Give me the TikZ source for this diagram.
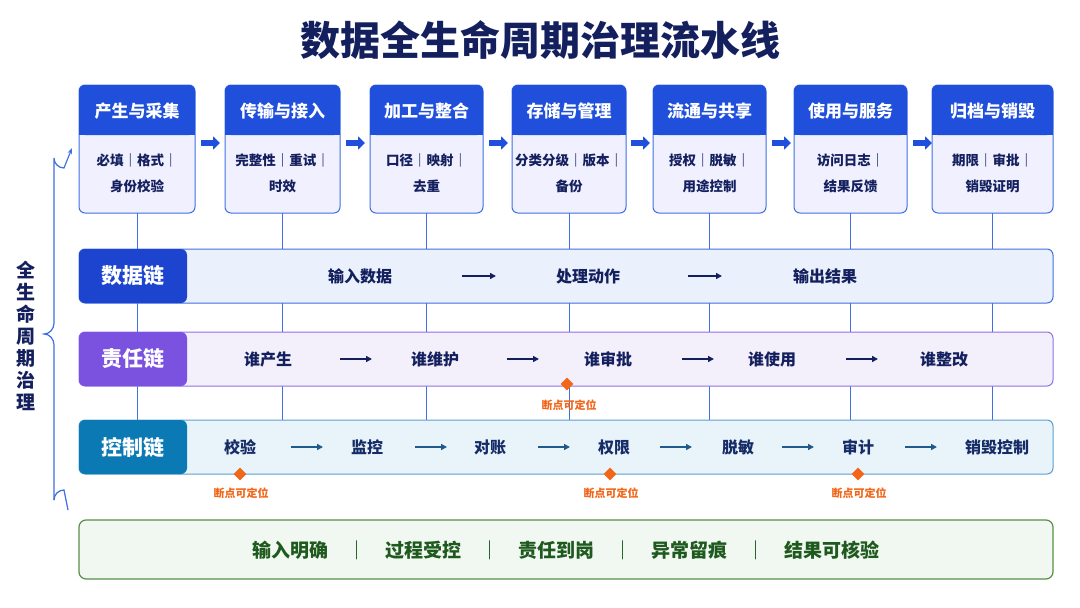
\documentclass[tikz,border=0pt]{standalone}
\usepackage{fontspec}
\setmainfont{Noto Sans CJK SC}
\usetikzlibrary{arrows.meta,shapes.geometric,decorations.pathreplacing}
\definecolor{hdr}{HTML}{1F4FDB}
\definecolor{bdr}{HTML}{3F6FE3}
\definecolor{navy}{HTML}{14205E}
\definecolor{dlab}{HTML}{1D44CF}
\definecolor{dfill}{HTML}{EAF1FC}
\definecolor{rlab}{HTML}{7A52DF}
\definecolor{rfill}{HTML}{F3F0FC}
\definecolor{rbdr}{HTML}{8E72E6}
\definecolor{clab}{HTML}{0B79B4}
\definecolor{cfill}{HTML}{E8F3FA}
\definecolor{cbdr}{HTML}{5B9FD2}
\definecolor{carr}{HTML}{1F5A8A}
\definecolor{org}{HTML}{F2661A}
\definecolor{gbdr}{HTML}{5A8F48}
\definecolor{gfill}{HTML}{F1F7F1}
\definecolor{gtxt}{HTML}{1E5A1E}
\begin{document}
\begin{tikzpicture}[x=1pt,y=-1pt,font=\bfseries,
  body/.style={draw=bdr,line width=1pt,fill=white!94!blue,rounded corners=6pt},
  head/.style={fill=hdr,rounded corners=6pt},
  stt/.style={text=white,font=\bfseries\fontsize{17}{20}\selectfont},
  btx/.style={text=navy,font=\bfseries\fontsize{13.5}{26}\selectfont,align=center},
  blk/.style={-{Triangle[length=7pt,width=13pt]},line width=6pt,draw=hdr},
  vln/.style={draw=bdr,line width=0.8pt},
  ct/.style={text=navy,font=\bfseries\fontsize{16}{18}\selectfont},
  ca/.style={-{Triangle[length=6pt,width=6pt]},line width=1.8pt,draw=navy},
  cca/.style={-{Triangle[length=6pt,width=6pt]},line width=1.8pt,draw=carr},
  dia/.style={diamond,fill=org,inner sep=0pt,minimum size=13pt},
  dl/.style={text=org,font=\bfseries\fontsize{11}{13}\selectfont},
  lab/.style={text=white,font=\bfseries\fontsize{21}{24}\selectfont}]
\useasboundingbox (0,0) rectangle (1080,608);
\fill[white] (0,0) rectangle (1080,608);
\node[text=navy,font=\bfseries\fontsize{40}{46}\selectfont] (title) at (540,40) {数据全生命周期治理流水线};
% vertical connector lines
\foreach \x in {282,426,569,709,850,992,137}{
  \draw[vln] (\x,213) -- (\x,420);}
% chains
\draw[draw=bdr,fill=dfill,line width=1pt,rounded corners=6pt] (79,249) rectangle (1053,303);
\fill[dlab,rounded corners=6pt] (79,249) rectangle (187,303);
\node[lab] (dchain) at (133,276) {数据链};
\draw[draw=rbdr,fill=rfill,line width=1pt,rounded corners=6pt] (79,332) rectangle (1053,386);
\fill[rlab,rounded corners=6pt] (79,332) rectangle (187,386);
\node[lab] (rchain) at (133,359) {责任链};
\draw[draw=cbdr,fill=cfill,line width=1pt,rounded corners=6pt] (79,420) rectangle (1053,474);
\fill[clab,rounded corners=6pt] (79,420) rectangle (187,474);
\node[lab] (cchain) at (133,447) {控制链};
% stage boxes
\foreach \a/\b/\n/\t/\u/\v in {79/195/s1/产生与采集/必填｜格式｜/身份校验,
 225/340/s2/传输与接入/完整性｜重试｜/时效,
 370/483/s3/加工与整合/口径｜映射｜/去重,
 512/626/s4/存储与管理/分类分级｜版本｜/备份,
 653/766/s5/流通与共享/授权｜脱敏｜/用途控制,
 794/907/s6/使用与服务/访问日志｜/结果反馈,
 932/1053/s7/归档与销毁/期限｜审批｜/销毁证明}{
  \draw[body] (\a,85) rectangle (\b,213);
  \fill[head] (\a,85) rectangle (\b,135);
  \fill[hdr] (\a,120) rectangle (\b,135);
  \node[stt] (\n) at ({(\a+\b)/2},111) {\t};
  \node[btx] (\n b) at ({(\a+\b)/2},173) {\u\\\v};
}
\foreach \x in {201,346,489,631,772,913}{
  \draw[blk] (\x,143) -- (\x+19,143);}
% data chain
\node[ct] (d1) at (360,276) {输入数据};
\node[ct] (d2) at (588,276) {处理动作};
\node[ct] (d3) at (825,276) {输出结果};
\draw[ca] (462,276) -- (496,276);
\draw[ca] (688,276) -- (722,276);
% resp chain
\foreach \x/\t/\n in {268/谁产生/r1,435/谁维护/r2,608/谁审批/r3,772/谁使用/r4,944/谁整改/r5}{
  \node[ct] (\n) at (\x,359) {\t};}
\foreach \x in {340,507,682,846}{\draw[ca] (\x,359) -- (\x+32,359);}
\node[dia] (k1) at (567,384) {};
\node[dl] (k1l) at (569,405) {断点可定位};
% control chain
\foreach \x/\t/\n in {240/校验/c1,367/监控/c2,490/对账/c3,614/权限/c4,738/脱敏/c5,858/审计/c6,997/销毁控制/c7}{
  \node[ct,text=navy!80!carr] (\n) at (\x,447) {\t};}
\foreach \x in {291,415,538,660,782,905}{\draw[cca] (\x,447) -- (\x+32,447);}
\foreach \x/\n in {240/k2,610/k3,858/k4}{
  \node[dia] (\n) at (\x,474) {};
  \node[dl] (\n l) at (\x+1,493) {断点可定位};}
% left bracket
\coordinate (bt) at (72,148);
\draw[draw=bdr,line width=1.2pt,-{Stealth[length=6pt]}] (54,500) -- (54,345) to[out=90,in=0] (44,334) to[out=0,in=-90] (54,323) -- (54,158) arc[start angle=180,end angle=90,radius=10] -- (bt);
\draw[draw=bdr,line width=1.2pt] (54,500) arc[start angle=180,end angle=270,radius=10] -- (68,510);
\node[text=navy,font=\bfseries\fontsize{19}{22}\selectfont,align=center] (side) at (26,336) {全\\生\\命\\周\\期\\治\\理};
% bottom
\draw[draw=gbdr,fill=gfill,line width=1.2pt,rounded corners=7pt] (79,520) rectangle (1053,579);
\node[text=gtxt,font=\bfseries\fontsize{19}{22}\selectfont] (sum) at (566,550) {输入明确\hspace{1em}｜\hspace{1em}过程受控\hspace{1em}｜\hspace{1em}责任到岗\hspace{1em}｜\hspace{1em}异常留痕\hspace{1em}｜\hspace{1em}结果可核验};
\end{tikzpicture}
\end{document}
